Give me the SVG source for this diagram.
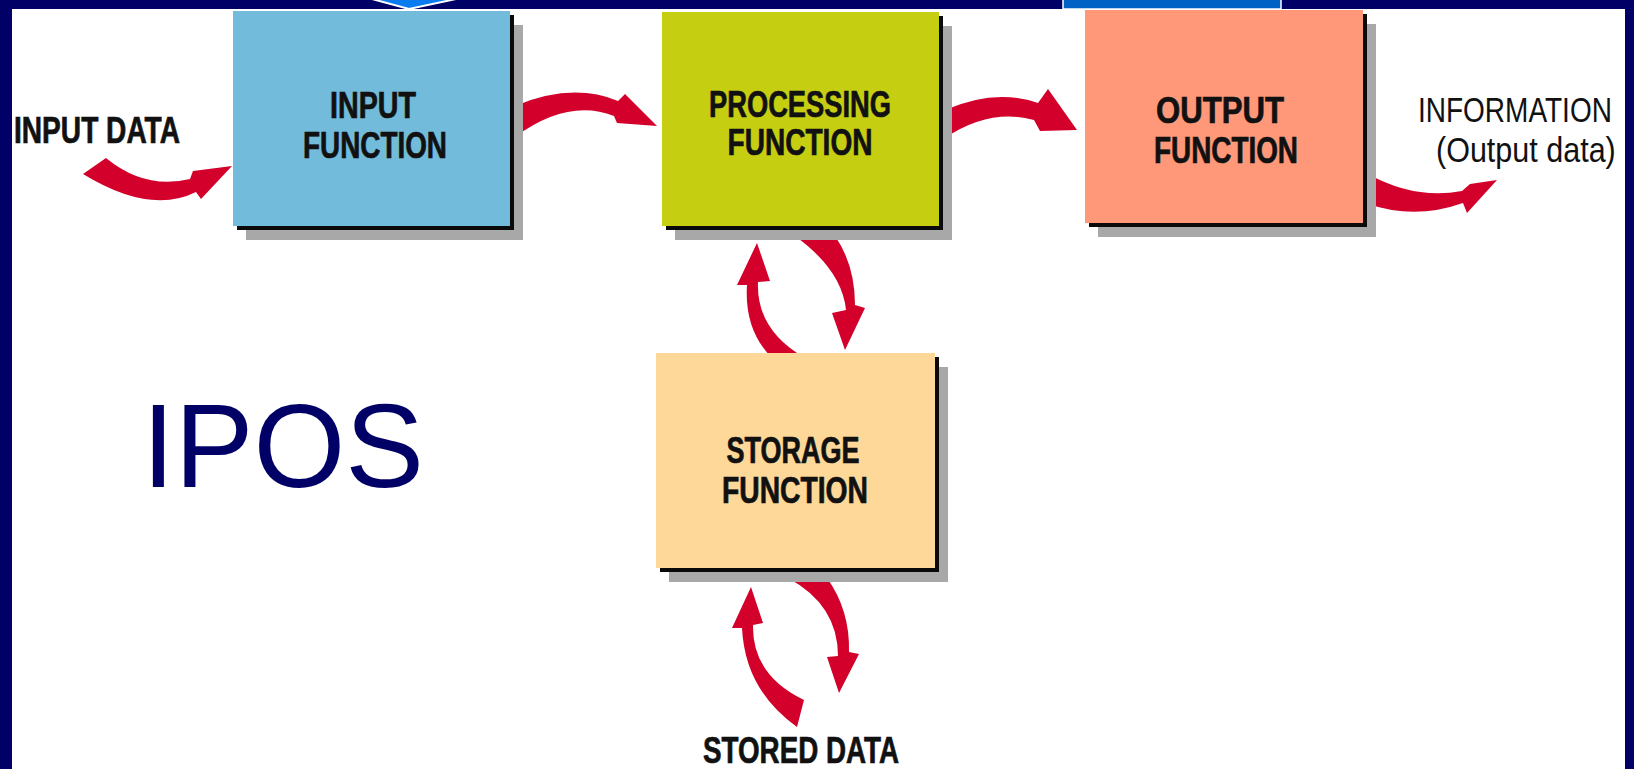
<svg xmlns="http://www.w3.org/2000/svg" width="1634" height="769" viewBox="0 0 1634 769">
<style>
.lbl{font-family:"Liberation Sans",Arial,sans-serif;font-weight:bold;font-size:36px;fill:#111;stroke:#111;stroke-width:0.7;text-anchor:middle}
.ext{font-family:"Liberation Sans",Arial,sans-serif;font-size:28px;fill:#111}
.arr{fill:#D2002A}
.sh1{fill:#A8A8A8}
.sh2{fill:#0A0A0A}
</style>
<rect x="0" y="0" width="1634" height="769" fill="#FFFFFF"/>
<g id="connectors">
<path class="arr" d="M83,174 L106,158 Q145,190 190,179 L193,171 L232,166 L201,199 L196,192 Q150,215 83,174 Z"/>
<path class="arr" d="M515,106 Q572,82 618,101 L625,94 L657,126 L617,123 L614,116 Q568,98 515,137 Z"/>
<path class="arr" d="M945,110 Q995,88 1038,103 L1048,89 L1077,130 L1040,131 L1034,120 Q990,108 945,138 Z"/>
<path class="arr" d="M1368,174 Q1415,200 1462,191 L1470,184 L1497,180 L1467,213 L1463,203 Q1415,220 1368,204 Z"/>
<path class="arr" d="M772,358 Q744,330 747,285 L737,285 L757,243 L770,281 L758,282 Q756,330 805,358 Z"/>
<path class="arr" d="M795,236 L835,236 Q855,265 855,305 L865,308 L845,350 L832,313 L846,310 Q842,270 795,236 Z"/>
<path class="arr" d="M797,727 Q745,690 742,628 L732,628 L751,587 L763,623 L753,625 Q752,675 804,700 Z"/>
<path class="arr" d="M788,578 L827,578 Q850,610 849,652 L859,654 L839,693 L827,657 L838,656 Q838,605 788,578 Z"/>
</g>
<g id="input-function">
<rect class="sh1" x="246" y="25" width="277" height="215"/>
<rect class="sh2" x="237" y="15" width="277" height="215"/>
<rect x="233" y="11" width="277" height="215" fill="#72BBDA"/>
<text class="lbl" x="373" y="118" textLength="86" lengthAdjust="spacingAndGlyphs">INPUT</text>
<text class="lbl" x="375" y="158" textLength="144" lengthAdjust="spacingAndGlyphs">FUNCTION</text>
</g>
<g id="processing-function">
<rect class="sh1" x="675" y="26" width="277" height="214"/>
<rect class="sh2" x="666" y="16" width="277" height="214"/>
<rect x="662" y="12" width="277" height="214" fill="#C6CE12"/>
<text class="lbl" x="800" y="117" textLength="182" lengthAdjust="spacingAndGlyphs">PROCESSING</text>
<text class="lbl" x="800" y="155" textLength="145" lengthAdjust="spacingAndGlyphs">FUNCTION</text>
</g>
<g id="output-function">
<rect class="sh1" x="1098" y="24" width="278" height="213"/>
<rect class="sh2" x="1089" y="14" width="278" height="213"/>
<rect x="1085" y="10" width="278" height="213" fill="#FF9878"/>
<text class="lbl" x="1220" y="123" textLength="128" lengthAdjust="spacingAndGlyphs">OUTPUT</text>
<text class="lbl" x="1226" y="163" textLength="144" lengthAdjust="spacingAndGlyphs">FUNCTION</text>
</g>
<g id="storage-function">
<rect class="sh1" x="669" y="367" width="279" height="215"/>
<rect class="sh2" x="660" y="357" width="279" height="215"/>
<rect x="656" y="353" width="279" height="215" fill="#FED898"/>
<text class="lbl" x="793" y="463" textLength="133" lengthAdjust="spacingAndGlyphs">STORAGE</text>
<text class="lbl" x="795" y="503" textLength="146" lengthAdjust="spacingAndGlyphs">FUNCTION</text>
</g>
<g id="input-data">
<text class="lbl" x="97" y="143" textLength="166" lengthAdjust="spacingAndGlyphs" font-size="34">INPUT DATA</text>
</g>
<g id="information">
<text class="ext" transform="translate(1418,122) scale(1,1.25)" x="0" y="0">INFORMATION</text>
<text class="ext" transform="translate(1436,162) scale(1.09,1.25)" x="0" y="0">(Output data)</text>
</g>
<g id="stored-data">
<text class="lbl" x="801" y="763" textLength="196" lengthAdjust="spacingAndGlyphs" font-size="33">STORED DATA</text>
</g>
<g id="title">
<text x="142" y="487" font-family="Liberation Sans, Arial, sans-serif" font-size="118" fill="#000066">IPOS</text>
</g>
<g id="frame">
<rect x="0" y="0" width="1634" height="9" fill="#000066"/>
<rect x="0" y="0" width="12" height="769" fill="#000066"/>
<rect x="1625" y="0" width="9" height="769" fill="#000066"/>
<polygon points="372,-1 409,9 456,-1" fill="#0A7CF0" stroke="#FFFFFF" stroke-width="2"/>
<rect x="1063" y="-2" width="218" height="11" fill="#0062C4" stroke="#FFFFFF" stroke-width="1.5"/>
</g>
</svg>
